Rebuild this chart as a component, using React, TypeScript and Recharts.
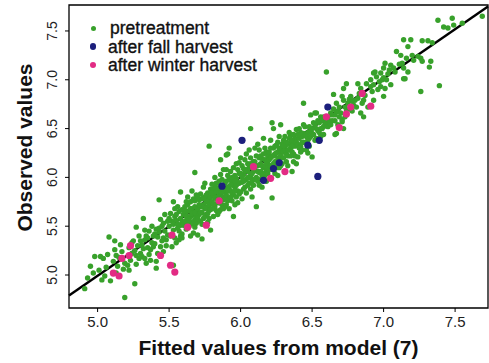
import {
  ScatterChart,
  Scatter,
  XAxis,
  YAxis,
  ReferenceLine,
  ReferenceArea,
  Legend
} from "recharts"

// fitted vs observed, three groups
const PRETREATMENT: [number, number][] = [
  [4.91, 4.86], [4.95, 5.09], [4.98, 5.19], [4.93, 4.97], [4.97, 5.02],
  [5.02, 5.19], [5.04, 5.17], [5.03, 4.95], [5.09, 4.94], [5.08, 5.39], [5.06, 5.08], [5.01, 5.05], [5.07, 5.21], [5.05, 4.99],
  [5.12, 5.26], [5.13, 5.20], [5.14, 5.09], [5.19, 4.77], [5.11, 5.14], [5.16, 5.31], [5.18, 5.06], [5.15, 5.18], [5.17, 5.24], [5.13, 5.02], [5.19, 5.12], [5.12, 5.35],
  [5.26, 4.91], [5.27, 5.11], [5.27, 5.49], [5.24, 5.22], [5.22, 5.28], [5.29, 5.17], [5.21, 5.10], [5.25, 5.35], [5.28, 5.30], [5.23, 5.15], [5.26, 5.25], [5.29, 5.40], [5.22, 5.05], [5.27, 5.20], [5.24, 5.33],
  [5.30, 5.22], [5.34, 5.40], [5.31, 5.31], [5.37, 5.15], [5.37, 5.26], [5.32, 5.58], [5.33, 5.36], [5.35, 5.28], [5.36, 5.45], [5.38, 5.33], [5.31, 5.19], [5.39, 5.40], [5.34, 5.12], [5.32, 5.27], [5.36, 5.21], [5.38, 5.50], [5.35, 5.38], [5.33, 5.46], [5.39, 5.29], [5.30, 5.35], [5.33, 5.17],
  [5.41, 5.07], [5.40, 5.32], [5.43, 5.44], [5.48, 5.36], [5.46, 5.53], [5.43, 5.77], [5.46, 5.24], [5.42, 5.39], [5.44, 5.29], [5.47, 5.45], [5.45, 5.50], [5.49, 5.41], [5.41, 5.47], [5.44, 5.57], [5.48, 5.30], [5.42, 5.22], [5.46, 5.38], [5.49, 5.55], [5.47, 5.62], [5.40, 5.42], [5.45, 5.35], [5.43, 5.48], [5.41, 5.14],
  [5.53, 5.46], [5.58, 5.51], [5.53, 5.75], [5.58, 5.85], [5.51, 5.40], [5.52, 5.55], [5.54, 5.60], [5.55, 5.33], [5.56, 5.48], [5.57, 5.65], [5.59, 5.42], [5.50, 5.50], [5.51, 5.63], [5.54, 5.38], [5.55, 5.56], [5.56, 5.70], [5.57, 5.45], [5.58, 5.58], [5.59, 5.67], [5.52, 5.29], [5.53, 5.52], [5.55, 5.62], [5.57, 5.36], [5.59, 5.54], [5.50, 5.58], [5.56, 5.52], [5.58, 5.40], [5.54, 5.68], [5.59, 5.38], [5.53, 5.10],
  [5.67, 5.43], [5.69, 5.53], [5.68, 6.05], [5.61, 5.55], [5.62, 5.64], [5.63, 5.72], [5.64, 5.50], [5.65, 5.60], [5.66, 5.68], [5.67, 5.78], [5.68, 5.57], [5.69, 5.65], [5.60, 5.62], [5.61, 5.70], [5.62, 5.47], [5.63, 5.58], [5.64, 5.66], [5.65, 5.75], [5.66, 5.54], [5.67, 5.62], [5.68, 5.70], [5.69, 5.82], [5.60, 5.51], [5.62, 5.60], [5.63, 5.80], [5.64, 5.57], [5.65, 5.68], [5.66, 5.63], [5.67, 5.52], [5.68, 5.76], [5.69, 5.60], [5.61, 5.66], [5.63, 5.53], [5.65, 5.40], [5.66, 5.86], [5.68, 5.64], [5.62, 5.75], [5.68, 5.49],
  [5.78, 6.32], [5.71, 5.62], [5.72, 5.70], [5.73, 5.78], [5.74, 5.58], [5.75, 5.68], [5.76, 5.75], [5.77, 5.84], [5.78, 5.66], [5.79, 5.73], [5.70, 5.68], [5.71, 5.77], [5.72, 5.55], [5.73, 5.64], [5.74, 5.72], [5.75, 5.80], [5.76, 5.62], [5.77, 5.70], [5.78, 5.78], [5.79, 5.88], [5.70, 5.58], [5.72, 5.83], [5.73, 5.70], [5.74, 5.90], [5.75, 5.60], [5.76, 5.69], [5.77, 5.76], [5.78, 5.58], [5.79, 5.67], [5.71, 5.72], [5.73, 5.52], [5.74, 5.79], [5.76, 5.82], [5.77, 5.63], [5.78, 5.72], [5.79, 5.80], [5.70, 5.80], [5.75, 5.94], [5.72, 5.64], [5.77, 5.54], [5.70, 5.41], [5.73, 5.37], [5.79, 5.46],
  [5.81, 5.60], [5.86, 5.67], [5.86, 6.18], [5.80, 5.75], [5.81, 5.82], [5.82, 5.70], [5.83, 5.78], [5.84, 5.86], [5.85, 5.74], [5.86, 5.82], [5.87, 5.90], [5.88, 5.77], [5.89, 5.85], [5.80, 5.68], [5.81, 5.88], [5.82, 5.79], [5.83, 5.66], [5.84, 5.74], [5.85, 5.83], [5.86, 5.92], [5.87, 5.72], [5.88, 5.80], [5.89, 5.94], [5.80, 5.84], [5.81, 5.73], [5.82, 5.92], [5.83, 5.85], [5.84, 5.62], [5.85, 5.96], [5.86, 5.76], [5.87, 5.85], [5.88, 5.68], [5.89, 5.78], [5.82, 6.00], [5.84, 5.80], [5.85, 5.65], [5.87, 5.98], [5.88, 5.88], [5.89, 5.70], [5.83, 5.94], [5.80, 5.93], [5.86, 6.03], [5.88, 6.08], [5.84, 5.89],
  [5.90, 6.23], [5.95, 5.60], [5.90, 5.82], [5.91, 5.90], [5.92, 5.78], [5.93, 5.86], [5.94, 5.94], [5.95, 5.82], [5.96, 5.90], [5.97, 5.99], [5.98, 5.86], [5.99, 5.94], [5.90, 5.96], [5.91, 5.76], [5.92, 5.88], [5.93, 5.97], [5.94, 5.84], [5.95, 5.92], [5.96, 6.02], [5.97, 5.80], [5.98, 5.95], [5.99, 6.04], [5.90, 5.72], [5.91, 5.86], [5.92, 5.98], [5.93, 6.06], [5.94, 5.76], [5.95, 5.99], [5.96, 5.86], [5.97, 5.92], [5.98, 6.08], [5.99, 5.83], [5.91, 6.02], [5.93, 5.80], [5.95, 6.10], [5.97, 6.14], [5.98, 5.74], [5.92, 5.68], [5.94, 6.00], [5.96, 5.96], [5.99, 6.15], [5.90, 6.08], [5.96, 5.72], [5.93, 5.92], [5.92, 6.30], [5.91, 6.24],
  [6.07, 6.50], [6.01, 5.95], [6.02, 6.03], [6.03, 5.90], [6.04, 5.98], [6.05, 6.06], [6.06, 5.94], [6.07, 6.02], [6.08, 6.10], [6.09, 5.98], [6.00, 6.04], [6.01, 6.12], [6.02, 5.88], [6.03, 5.97], [6.04, 6.08], [6.05, 5.92], [6.06, 6.00], [6.07, 6.14], [6.08, 5.96], [6.09, 6.06], [6.00, 5.85], [6.01, 6.00], [6.02, 6.09], [6.03, 6.18], [6.04, 5.84], [6.05, 6.00], [6.06, 6.10], [6.07, 5.88], [6.08, 6.04], [6.09, 6.16], [6.00, 6.20], [6.02, 5.96], [6.04, 6.24], [6.05, 6.14], [6.06, 6.28], [6.08, 5.80], [6.09, 5.92], [6.03, 6.07], [6.01, 5.78], [6.07, 6.20],
  [6.11, 5.70], [6.10, 6.08], [6.11, 6.00], [6.12, 6.12], [6.13, 6.05], [6.14, 6.14], [6.15, 6.02], [6.16, 6.10], [6.17, 6.18], [6.18, 6.06], [6.19, 6.14], [6.10, 6.16], [6.11, 6.22], [6.12, 5.96], [6.13, 6.20], [6.14, 6.06], [6.15, 6.12], [6.16, 6.24], [6.17, 6.02], [6.18, 6.16], [6.19, 6.22], [6.10, 5.98], [6.12, 6.06], [6.13, 6.28], [6.14, 5.98], [6.15, 6.19], [6.16, 6.04], [6.17, 6.12], [6.18, 6.26], [6.19, 6.04], [6.10, 6.30], [6.12, 6.34], [6.14, 6.22], [6.15, 5.90], [6.17, 6.30], [6.18, 5.96], [6.19, 6.10], [6.16, 6.40], [6.13, 5.92],
  [6.22, 6.56], [6.22, 5.79], [6.23, 6.50], [6.28, 6.54], [6.25, 6.33], [6.20, 6.18], [6.21, 6.12], [6.22, 6.22], [6.23, 6.14], [6.24, 6.24], [6.25, 6.16], [6.26, 6.26], [6.27, 6.18], [6.28, 6.28], [6.29, 6.20], [6.20, 6.26], [6.21, 6.30], [6.22, 6.08], [6.23, 6.22], [6.24, 6.32], [6.25, 6.10], [6.26, 6.20], [6.27, 6.30], [6.28, 6.12], [6.29, 6.26], [6.20, 6.08], [6.21, 6.20], [6.23, 6.30], [6.24, 6.04], [6.25, 6.25], [6.26, 6.36], [6.27, 6.10], [6.28, 6.22], [6.29, 6.34], [6.21, 6.38], [6.24, 6.16], [6.26, 6.02], [6.27, 6.42], [6.29, 6.14],
  [6.30, 6.38], [6.35, 6.43], [6.39, 6.49], [6.39, 6.14], [6.36, 6.06], [6.30, 6.26], [6.31, 6.32], [6.32, 6.24], [6.33, 6.34], [6.34, 6.28], [6.35, 6.36], [6.36, 6.26], [6.37, 6.34], [6.38, 6.40], [6.30, 6.20], [6.31, 6.28], [6.32, 6.36], [6.33, 6.22], [6.34, 6.40], [6.35, 6.30], [6.36, 6.38], [6.37, 6.24], [6.38, 6.32], [6.39, 6.36], [6.31, 6.42], [6.32, 6.16], [6.33, 6.28], [6.34, 6.46], [6.36, 6.32], [6.37, 6.44], [6.38, 6.22], [6.30, 6.32], [6.33, 6.12], [6.35, 6.22], [6.37, 6.16],
  [6.44, 6.76], [6.49, 6.64], [6.44, 6.45], [6.47, 6.25], [6.40, 6.21], [6.40, 6.34], [6.41, 6.40], [6.42, 6.32], [6.43, 6.42], [6.44, 6.36], [6.45, 6.44], [6.46, 6.36], [6.47, 6.46], [6.48, 6.40], [6.49, 6.48], [6.41, 6.30], [6.42, 6.46], [6.43, 6.36], [6.45, 6.52], [6.46, 6.42], [6.47, 6.38], [6.48, 6.52], [6.49, 6.42], [6.40, 6.44], [6.42, 6.26], [6.44, 6.54], [6.46, 6.28], [6.48, 6.32], [6.41, 6.50], [6.43, 6.28],
  [6.52, 6.66], [6.56, 6.62], [6.53, 6.66], [6.53, 6.50], [6.50, 6.45], [6.50, 6.21], [6.50, 6.50], [6.51, 6.44], [6.52, 6.54], [6.54, 6.48], [6.55, 6.56], [6.56, 6.50], [6.57, 6.58], [6.58, 6.52], [6.59, 6.60], [6.51, 6.56], [6.53, 6.40], [6.54, 6.58], [6.55, 6.46], [6.57, 6.50], [6.58, 6.62], [6.59, 6.54], [6.52, 6.38], [6.56, 6.42], [6.58, 6.44],
  [6.60, 7.08], [6.65, 6.85], [6.67, 6.45], [6.66, 6.58], [6.64, 6.64], [6.67, 6.67], [6.66, 6.44], [6.68, 6.54], [6.67, 6.76], [6.60, 6.56], [6.61, 6.62], [6.62, 6.58], [6.63, 6.66], [6.64, 6.58], [6.65, 6.70], [6.66, 6.64], [6.68, 6.68], [6.69, 6.62], [6.61, 6.52], [6.63, 6.54], [6.69, 6.72],
  [6.74, 6.96], [6.71, 6.83], [6.71, 6.57], [6.71, 6.59], [6.72, 6.50], [6.72, 6.91], [6.77, 6.83], [6.72, 6.79], [6.70, 6.66], [6.73, 6.72], [6.74, 6.68], [6.75, 6.76], [6.76, 6.70], [6.78, 6.78], [6.79, 6.74], [6.73, 6.62], [6.76, 6.80], [6.78, 6.68],
  [6.82, 6.96], [6.82, 6.81], [6.81, 6.72], [6.80, 6.79], [6.84, 6.91], [6.86, 6.79], [6.89, 6.72], [6.84, 6.66], [6.86, 6.62], [6.88, 6.96], [6.83, 6.86], [6.85, 6.76], [6.87, 6.84],
  [6.91, 6.93], [6.93, 7.07], [6.91, 7.00], [6.93, 6.95], [6.93, 6.79], [6.94, 7.08], [6.95, 7.03], [6.98, 7.07], [6.98, 6.93], [6.96, 6.90], [6.97, 6.98], [6.99, 7.00], [6.92, 6.88],
  [7.00, 6.83], [7.00, 7.12], [7.00, 7.02], [7.01, 7.17], [7.05, 7.15], [7.07, 7.12], [7.04, 7.10], [7.02, 7.00], [7.01, 6.91], [7.05, 6.95], [7.09, 7.29], [7.03, 7.06], [7.08, 7.08],
  [7.12, 7.25], [7.16, 7.22], [7.13, 7.17], [7.14, 7.12], [7.17, 7.08], [7.14, 7.01], [7.15, 7.01], [7.14, 7.41], [7.19, 7.41], [7.17, 7.34], [7.11, 7.16],
  [7.20, 7.25], [7.21, 7.20], [7.26, 7.22], [7.27, 7.19], [7.27, 7.40], [7.26, 6.88], [7.24, 7.24],
  [7.33, 7.19], [7.32, 7.13], [7.31, 7.40], [7.34, 7.38], [7.38, 7.61], [7.39, 6.94],
  [7.42, 7.54], [7.45, 7.53], [7.48, 7.63], [7.49, 7.56],
  [7.55, 7.58], [7.69, 7.65]
]

const AFTER_FALL: [number, number][] = [
  [6.01, 6.38], [6.61, 6.72], [6.47, 6.33], [6.55, 6.38], [6.27, 6.15],
  [6.23, 6.09], [6.16, 5.97], [6.54, 6.01], [5.87, 5.91]
]

const AFTER_WINTER: [number, number][] = [
  [6.85, 6.86], [6.77, 6.72], [6.91, 6.73], [6.74, 6.65], [6.60, 6.62],
  [6.69, 6.51], [6.09, 6.11], [6.31, 6.06], [6.21, 5.99], [5.85, 5.76],
  [5.63, 5.49], [5.76, 5.51], [5.52, 5.41], [5.23, 5.30], [5.22, 5.20],
  [5.17, 5.17], [5.44, 5.20], [5.51, 5.10], [5.54, 5.03], [5.11, 5.02],
  [5.15, 4.99]
]

const FIT_LINE = [{ x: 4.8, y: 4.79 }, { x: 7.73, y: 7.75 }]

const X_TICKS = [5, 5.5, 6, 6.5, 7, 7.5]
const Y_TICKS = [5, 5.5, 6, 6.5, 7, 7.5]
const X_DOMAIN = [4.8, 7.73]
const Y_DOMAIN = [4.662, 7.766]

const GREEN = "#38a12b"
const NAVY = "#1c1f7c"
const PINK = "#e22b84"

const SERIES = [
  { name: "pretreatment", color: GREEN, data: PRETREATMENT, r: 2.7 },
  { name: "after fall harvest", color: NAVY, data: AFTER_FALL, r: 3.6 },
  { name: "after winter harvest", color: PINK, data: AFTER_WINTER, r: 3.6 }
]

const FONT = "'Liberation Sans', Arial, Helvetica, sans-serif"

const toPoints = (arr: [number, number][]) => arr.map(([x, y]) => ({ x, y }))

const XTick = ({ x, y, payload }: any) => (
  <text x={x} y={y + 13} textAnchor="middle" fontSize={15} fontFamily={FONT} fill="#222">
    {Number(payload.value).toFixed(1)}
  </text>
)

const YTick = ({ x, y, payload }: any) => {
  const bx = x - 6
  return (
    <text
      x={bx}
      y={y}
      transform={`rotate(-90, ${bx}, ${y})`}
      textAnchor="middle"
      fontSize={14}
      fontFamily={FONT}
      fill="#222"
    >
      {Number(payload.value).toFixed(1)}
    </text>
  )
}

const XTitle = ({ viewBox }: any) => (
  <text
    x={viewBox.x + viewBox.width / 2}
    y={viewBox.y + 47}
    textAnchor="middle"
    fontSize={21}
    fontWeight="bold"
    fontFamily={FONT}
    fill="#111"
  >
    Fitted values from model (7)
  </text>
)

const YTitle = ({ viewBox }: any) => {
  const bx = 32
  const cy = viewBox.y + viewBox.height / 2 - 9
  return (
    <text
      x={bx}
      y={cy}
      transform={`rotate(-90, ${bx}, ${cy})`}
      textAnchor="middle"
      fontSize={21}
      fontWeight="bold"
      fontFamily={FONT}
      fill="#111"
    >
      Observed values
    </text>
  )
}

const renderLegend = () => (
  <div style={{ position: "relative", width: 300, height: 90, fontFamily: FONT }}>
    {SERIES.map((s, i) => {
      const cy = 28 + i * 18.5
      const d = i === 0 ? 5 : 6.4
      return (
        <div key={s.name}>
          <span
            style={{
              position: "absolute",
              left: 93 - d / 2,
              top: cy - d / 2,
              width: d,
              height: d,
              borderRadius: "50%",
              background: s.color
            }}
          />
          <span
            style={{
              position: "absolute",
              left: i === 0 ? 110 : 108,
              top: cy - 10,
              lineHeight: "20px",
              fontSize: 17.5,
              color: "#111",
              whiteSpace: "nowrap",
              WebkitTextStroke: "0.35px #111"
            }}
          >
            {s.name}
          </span>
        </div>
      )
    })}
  </div>
)

export default function App() {
  return (
    <div style={{ position: "absolute", left: 0, top: 0, width: 489, height: 363, background: "#fff" }}>
      <ScatterChart width={489} height={363} margin={{ top: 5, right: 1, bottom: 0, left: 0 }}>
        <XAxis
          type="number"
          dataKey="x"
          domain={X_DOMAIN}
          ticks={X_TICKS}
          allowDataOverflow
          height={55}
          axisLine={false}
          tickLine={{ stroke: "#000" }}
          tickSize={4}
          tick={<XTick />}
          label={<XTitle />}
        />
        <YAxis
          type="number"
          dataKey="y"
          domain={Y_DOMAIN}
          ticks={Y_TICKS}
          allowDataOverflow
          width={69}
          axisLine={false}
          tickLine={{ stroke: "#000" }}
          tickSize={4}
          tick={<YTick />}
          label={<YTitle />}
        />
        {SERIES.map((s) => (
          <Scatter
            key={s.name}
            name={s.name}
            data={toPoints(s.data)}
            fill={s.color}
            isAnimationActive={false}
            shape={(p: any) => <circle cx={p.cx} cy={p.cy} r={s.r} fill={s.color} />}
          />
        ))}
        <ReferenceLine
          segment={FIT_LINE}
          stroke="#000"
          strokeWidth={2.4}
          ifOverflow="visible"
        />
        <ReferenceArea
          x1={X_DOMAIN[0]}
          x2={X_DOMAIN[1]}
          y1={Y_DOMAIN[0]}
          y2={Y_DOMAIN[1]}
          fill="none"
          stroke="#000"
          strokeWidth={1.3}
          ifOverflow="visible"
        />
        <Legend
          layout="vertical"
          align="center"
          verticalAlign="middle"
          content={renderLegend}
          wrapperStyle={{ left: 0, top: 0, width: 300, height: 90 }}
        />
      </ScatterChart>
    </div>
  )
}
